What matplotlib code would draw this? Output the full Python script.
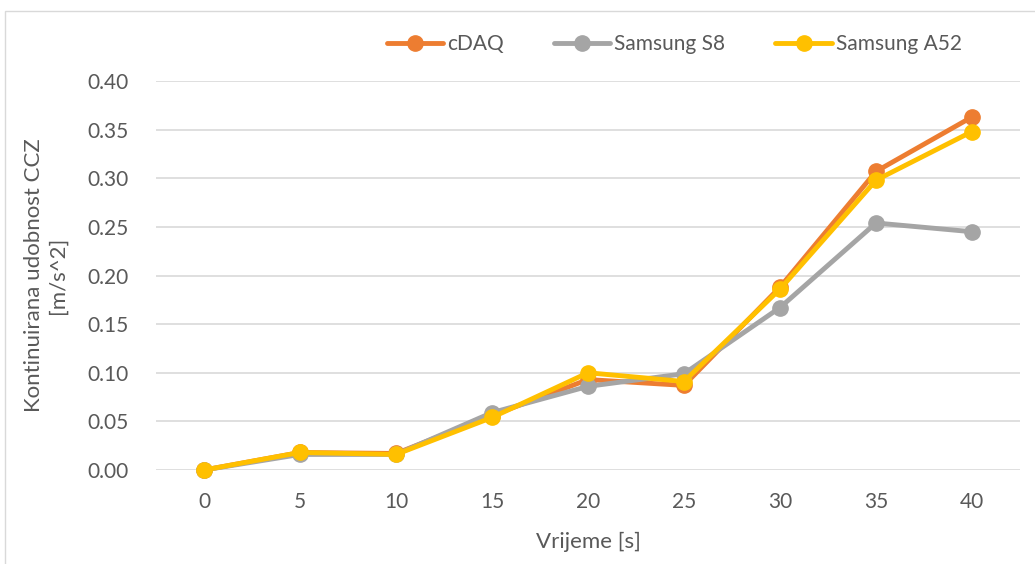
import matplotlib.pyplot as plt
from matplotlib.patches import Rectangle

plt.rcParams['font.family'] = ['Lato', 'DejaVu Sans']

# Vrijeme [s]
vrijeme = [0, 5, 10, 15, 20, 25, 30, 35, 40]

# Kontinuirana udobnost CCZ [m/s^2]
cdaq = [0.000, 0.018, 0.017, 0.056, 0.093, 0.087, 0.188, 0.307, 0.363]
samsung_s8 = [0.000, 0.016, 0.016, 0.059, 0.086, 0.099, 0.167, 0.254, 0.245]
samsung_a52 = [0.000, 0.018, 0.016, 0.054, 0.100, 0.091, 0.186, 0.298, 0.348]

series = [("cDAQ", cdaq, "#ED7D31"),
          ("Samsung S8", samsung_s8, "#A5A5A5"),
          ("Samsung A52", samsung_a52, "#FFC000")]

txt = "#595959"

fig = plt.figure(figsize=(10.35, 5.64), dpi=100)
ax = fig.add_axes([156 / 1035, 1 - 470 / 564, (1020 - 156) / 1035, (470 - 81) / 564])

pos = list(range(len(vrijeme)))
for name, vals, col in series:
    ax.plot(pos, vals, color=col, lw=3.5, marker="o", ms=11, label=name,
            solid_capstyle="round", clip_on=False)

ax.set_xlim(-0.5, len(vrijeme) - 0.5)
ax.set_ylim(0, 0.40)
ax.set_yticks([i * 0.05 for i in range(9)])
ax.set_yticklabels([f"{i * 0.05:.2f}" for i in range(9)])
ax.set_xticks(pos)
ax.set_xticklabels([str(v) for v in vrijeme])
ax.tick_params(colors=txt, labelsize=15, length=0)
ax.tick_params(axis="y", pad=20)
ax.tick_params(axis="x", pad=16)
ax.grid(axis="y", color="#D9D9D9", lw=1.2)
ax.set_axisbelow(True)
for s in ax.spines.values():
    s.set_visible(False)

ax.set_xlabel("Vrijeme [s]", color=txt, fontsize=16, labelpad=14)
ax.set_ylabel("Kontinuirana udobnost CCZ\n[m/s^2]", color=txt, fontsize=16, labelpad=14)

ax.legend(loc="lower center", bbox_to_anchor=(0.6, 1.02), ncol=3, frameon=False,
          fontsize=15, labelcolor=txt, handlelength=2.7, columnspacing=2.4,
          handletextpad=0.2)

# okvir grafikona
fig.add_artist(Rectangle((4.5 / 1035, -0.1), 1.2, 1.1 - 11.5 / 564,
                         transform=fig.transFigure, fill=False,
                         edgecolor="#D9D9D9", lw=1))

fig.savefig("out.png", dpi=100)
